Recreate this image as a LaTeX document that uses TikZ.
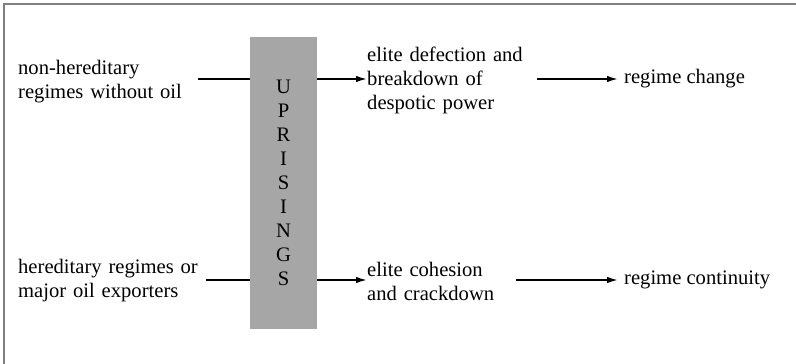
\documentclass[tikz,border=0pt]{standalone}
\usepackage{fontspec}
\setmainfont{Liberation Serif}
\usepackage{tikz}
\usetikzlibrary{arrows.meta}

\definecolor{boxgray}{RGB}{166,166,166}
\definecolor{framegray}{RGB}{128,128,128}

\tikzset{
	txt/.style={inner xsep=0pt, inner ysep=0pt, anchor=west, align=left, font=\fontsize{20.6}{24}\selectfont},
	conn/.style={line width=1.6pt},
	arr/.style={line width=1.6pt, -{Latex[length=11pt, width=6.5pt]}}
}

\begin{document}
\begin{tikzpicture}[x=1pt, y=-1pt]
			\begingroup
			\useasboundingbox (0,0) rectangle (796,364);
			\draw[framegray, line width=2pt] (3.5,364) -- (3.5,3.5) -- (796,3.5);
			
			\node[fill=boxgray, minimum width=67pt, minimum height=292pt, inner sep=0pt, align=center, font=\fontsize{20.6}{24}\selectfont] (up) at (283.5,183) {U\\P\\R\\I\\S\\I\\N\\G\\S};
			
			\node[txt, text width=180pt] (nh) at (18, 82) {non-hereditary\\regimes without oil};
			\node[txt, text width=188pt] (hr) at (18, 281) {hereditary regimes or\\major oil exporters};
			\node[txt, text width=170pt] (ed) at (367, 80) {elite defection and\\breakdown of\\despotic power};
			\node[txt, text width=149pt] (ec) at (367, 281) {elite cohesion\\and crackdown};
			\node[txt, inner xsep=6pt] (rc) at (618, 79) {regime change};
			\node[txt, inner xsep=6pt] (rk) at (618, 280) {regime continuity};
			
			\draw[conn] (nh.east |- 0,79) -- (up.west |- 0,79);
			\draw[conn] (hr.east |- 0,280) -- (up.west |- 0,280);
			\draw[arr] (up.east |- 0,79) -- (ed.west |- 0,79);
			\draw[arr] (up.east |- 0,280) -- (ec.west |- 0,280);
			\draw[arr] (ed.east |- 0,79) -- (rc.west |- 0,79);
			\draw[arr] (ec.east |- 0,280) -- (rk.west);
			\endgroup
\end{tikzpicture}
\end{document}
